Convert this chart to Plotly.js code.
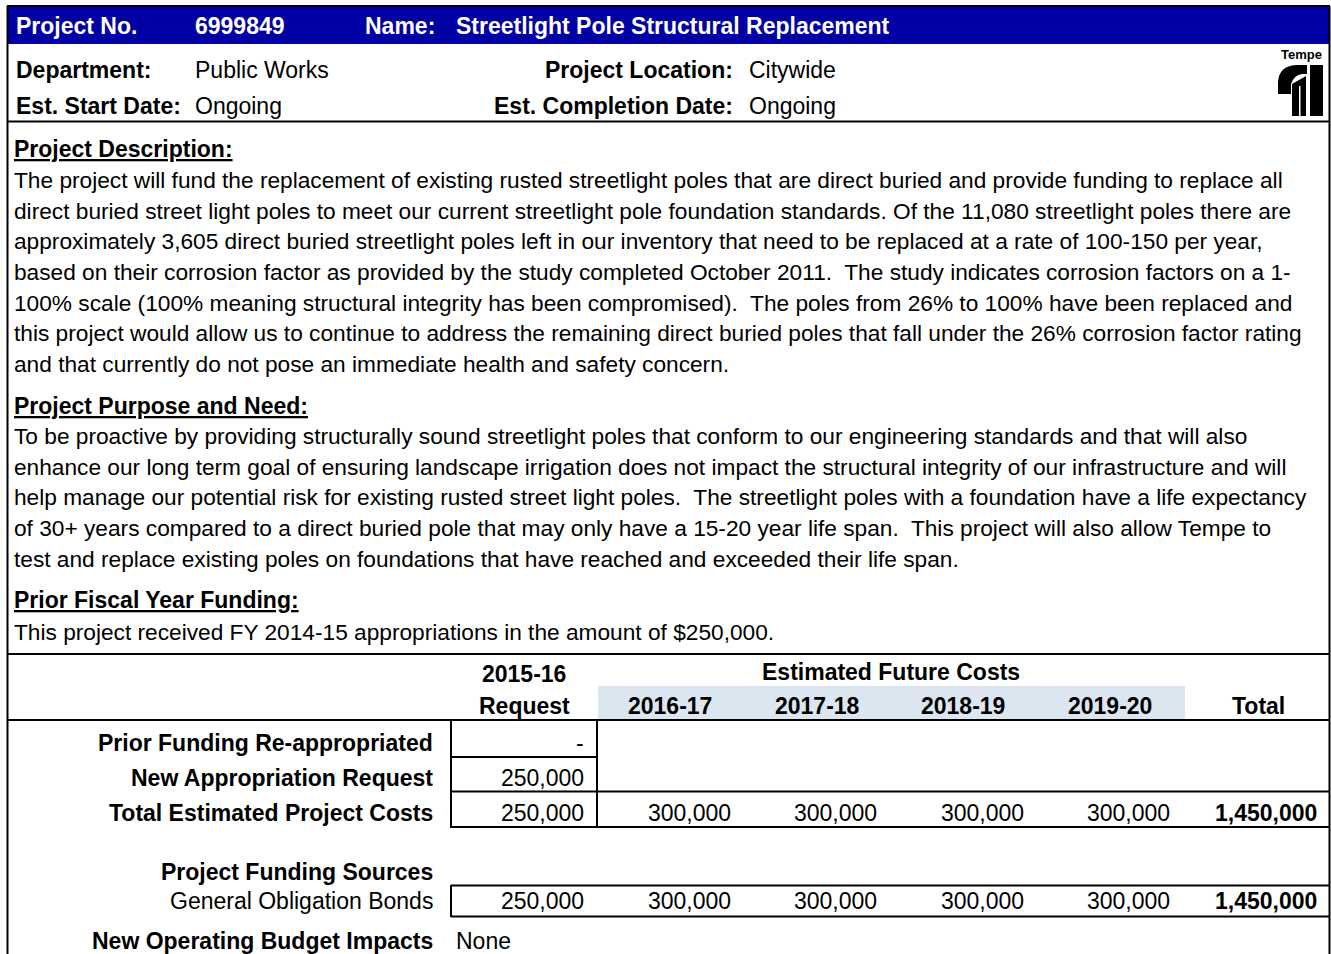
<!DOCTYPE html>
<html><head><meta charset="utf-8">
<script src="https://cdn.plot.ly/plotly-3.0.1.min.js"></script>
<style>html,body{margin:0;padding:0;background:#fff;}#chart{width:1331px;height:954px;}</style>
</head><body><div id="chart"></div>
<script>
// ---- data ----
const projectNo = '6999849';
const projectName = 'Streetlight Pole Structural Replacement';
const department = 'Public Works';
const projectLocation = 'Citywide';
const startDate = 'Ongoing';
const completionDate = 'Ongoing';
const requestYear = '2015-16';
const futureYears = ['2016-17', '2017-18', '2018-19', '2019-20'];
const priorFunding = null;
const newAppropriation = 250000;
const totalRequest = 250000;
const totalFuture = [300000, 300000, 300000, 300000];
const totalAll = 1450000;
const gobRequest = 250000;
const gobFuture = [300000, 300000, 300000, 300000];
const gobTotal = 1450000;
const operatingImpact = 'None';

const descLines = [
 'The project will fund the replacement of existing rusted streetlight poles that are direct buried and provide funding to replace all',
 'direct buried street light poles to meet our current streetlight pole foundation standards. Of the 11,080 streetlight poles there are',
 'approximately 3,605 direct buried streetlight poles left in our inventory that need to be replaced at a rate of 100-150 per year,',
 'based on their corrosion factor as provided by the study completed October 2011.  The study indicates corrosion factors on a 1-',
 '100% scale (100% meaning structural integrity has been compromised).  The poles from 26% to 100% have been replaced and',
 'this project would allow us to continue to address the remaining direct buried poles that fall under the 26% corrosion factor rating',
 'and that currently do not pose an immediate health and safety concern.'
];
const purposeLines = [
 'To be proactive by providing structurally sound streetlight poles that conform to our engineering standards and that will also',
 'enhance our long term goal of ensuring landscape irrigation does not impact the structural integrity of our infrastructure and will',
 'help manage our potential risk for existing rusted street light poles.  The streetlight poles with a foundation have a life expectancy',
 'of 30+ years compared to a direct buried pole that may only have a 15-20 year life span.  This project will also allow Tempe to',
 'test and replace existing poles on foundations that have reached and exceeded their life span.'
];
const priorText = 'This project received FY 2014-15 appropriations in the amount of $250,000.';

// ---- layout helpers ----
const SANS = 'Liberation Sans, Arial, sans-serif';
const BODY = 22.7;
const fmt = v => (v === null ? '-' : v.toLocaleString('en-US'));
const ann = [];
function T(x, y, text, opt) {
  opt = opt || {};
  ann.push({x: x, y: y, xref: 'x', yref: 'y', text: text, showarrow: false,
    xanchor: opt.xa || 'left', yanchor: 'middle', borderpad: 0,
    font: {family: SANS, size: opt.size || 23, color: opt.color || '#000'}});
}
// header
const hw = {color: '#fff'};
T(15, 26, '<b>Project No.</b>', hw);
T(194, 26, '<b>' + projectNo + '</b>', hw);
T(364, 26, '<b>Name:</b>', hw);
T(455, 26, '<b>' + projectName + '</b>', hw);
T(15, 70, '<b>Department:</b>');
T(194, 70, department);
T(734, 70, '<b>Project Location:</b>', {xa: 'right'});
T(748, 70, projectLocation);
T(15, 106, '<b>Est. Start Date:</b>');
T(194, 106, startDate);
T(734, 106, '<b>Est. Completion Date:</b>', {xa: 'right'});
T(748, 106, completionDate);
T(1301, 54, '<b>Tempe</b>', {xa: 'center', size: 13});

T(13, 149, '<b><u>Project Description:</u></b>');
descLines.forEach((l, i) => T(13, 180 + i * 30.65, l, {size: BODY}));
T(13, 406, '<b><u>Project Purpose and Need:</u></b>');
purposeLines.forEach((l, i) => T(13, 436 + i * 30.7, l, {size: BODY}));
T(13, 600, '<b><u>Prior Fiscal Year Funding:</u></b>');
T(13, 632, priorText, {size: BODY});

// table
const colCenters = [524, 670, 817, 963, 1110, 1258];
const colRights = [585, 732, 878, 1025, 1171, 1318];
const tc = {xa: 'center'};
const tr = {xa: 'right'};
T(colCenters[0], 674, '<b>' + requestYear + '</b>', tc);
T(891, 672, '<b>Estimated Future Costs</b>', tc);
T(colCenters[0], 706, '<b>Request</b>', tc);
futureYears.forEach((y, i) => T(colCenters[i + 1], 706, '<b>' + y + '</b>', tc));
T(colCenters[5], 706, '<b>Total</b>', tc);

const LX = 434;
T(LX, 743, '<b>Prior Funding Re-appropriated</b>', tr);
T(LX, 778, '<b>New Appropriation Request</b>', tr);
T(LX, 813, '<b>Total Estimated Project Costs</b>', tr);
T(LX, 872, '<b>Project Funding Sources</b>', tr);
T(LX, 901, 'General Obligation Bonds', tr);
T(LX, 941, '<b>New Operating Budget Impacts</b>', tr);
T(455, 941, operatingImpact);

T(colRights[0], 743, fmt(priorFunding), tr);
T(colRights[0], 778, fmt(newAppropriation), tr);
T(colRights[0], 813, fmt(totalRequest), tr);
totalFuture.forEach((v, i) => T(colRights[i + 1], 813, fmt(v), tr));
T(colRights[5], 813, '<b>' + fmt(totalAll) + '</b>', tr);
T(colRights[0], 901, fmt(gobRequest), tr);
gobFuture.forEach((v, i) => T(colRights[i + 1], 901, fmt(v), tr));
T(colRights[5], 901, '<b>' + fmt(gobTotal) + '</b>', tr);

// shapes
const shp = [];
function L(x0, y0, x1, y1, w) {
  shp.push({type: 'line', xref: 'x', yref: 'y', x0: x0, y0: y0, x1: x1, y1: y1, line: {color: '#000', width: w || 2}});
}
function R(x0, y0, x1, y1, c) {
  shp.push({type: 'rect', xref: 'x', yref: 'y', x0: x0, y0: y0, x1: x1, y1: y1, fillcolor: c, line: {width: 0}, layer: 'below'});
}
function P(path, c) {
  shp.push({type: 'path', xref: 'x', yref: 'y', path: path, fillcolor: c, line: {width: 0}});
}
R(8, 7, 1329, 44, '#0000a4');
R(598, 686, 1185, 720, '#dce6f1');
L(7, 6, 1330, 6);
L(7.5, 6, 7.5, 954);
L(1329.5, 6, 1329.5, 954);
L(7, 121.5, 1330, 121.5);
L(7, 654, 1330, 654);
L(7, 720, 1330, 720);
L(451, 720, 451, 828);
L(597, 720, 597, 828);
L(451, 757, 597, 757);
L(451, 791.5, 1330, 791.5);
L(451, 827, 1330, 827);
L(451, 885, 451, 917);
L(451, 885.5, 1330, 885.5);
L(451, 916.5, 1330, 916.5);
// Tempe logo
P('M1278,94 L1278,82 Q1279,66 1296,65 L1307,65 L1307,74 L1302,74 Q1294,75 1291,84 L1291,94 Z', '#000');
P('M1292,84 L1306,76 L1306,116 L1292,116 Z', '#000');
P('M1299,86 L1300.5,86 L1300.5,116 L1299,116 Z', '#fff');
P('M1310,65 L1323,65 L1323,116 L1310,116 Z', '#000');

const layout = {
  width: 1331, height: 954,
  margin: {l: 0, r: 0, t: 0, b: 0, pad: 0},
  paper_bgcolor: '#fff', plot_bgcolor: '#fff',
  showlegend: false,
  xaxis: {range: [0, 1331], visible: false, fixedrange: true},
  yaxis: {range: [954, 0], visible: false, fixedrange: true},
  annotations: ann,
  shapes: shp
};
Plotly.newPlot('chart', [{x: [], y: [], type: 'scatter', mode: 'markers', hoverinfo: 'skip'}], layout, {staticPlot: true, displayModeBar: false});
</script>
</body></html>
